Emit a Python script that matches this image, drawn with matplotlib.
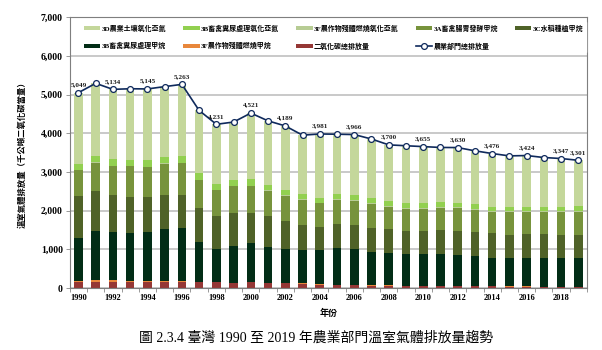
import numpy as np
import matplotlib
matplotlib.use("Agg")
import matplotlib.pyplot as plt

# 農業部門溫室氣體排放量 (千公噸二氧化碳當量), 1990-2019
years = list(range(1990, 2020))
co2 = [146, 163, 155, 150, 150, 163, 163, 155, 146, 130, 155, 129, 120, 112, 90,
       80, 75, 65, 65, 60, 55, 55, 55, 50, 45, 40, 38, 35, 33, 30]
f_ch4 = [43, 34, 60, 22, 22, 17, 15, 13, 12, 10, 10, 8, 8, 6, 5,
         5, 5, 5, 5, 4, 4, 4, 4, 4, 4, 3, 3, 3, 3, 3]
b_ch4 = [1099, 1288, 1236, 1261, 1287, 1348, 1384, 1025, 855, 959, 994, 936, 885, 869, 900,
         945, 920, 861, 843, 815, 820, 828, 785, 764, 734, 723, 725, 728, 730, 733]
c_ch4 = [1090, 1030, 961, 927, 884, 884, 850, 884, 850, 832, 789, 790, 729, 652, 590,
         625, 636, 626, 618, 600, 600, 601, 626, 626, 635, 609, 634, 626, 609, 617]
a_ch4 = [669, 721, 738, 790, 781, 798, 807, 713, 669, 696, 687, 652, 636, 636, 605,
         622, 617, 618, 574, 574, 566, 591, 600, 583, 557, 591, 566, 574, 591, 592]
f_n2o = [12, 12, 12, 12, 12, 12, 12, 12, 12, 12, 12, 30, 30, 20, 15,
         15, 15, 15, 15, 15, 15, 15, 15, 15, 15, 15, 15, 15, 15, 15]
b_n2o = [143, 160, 168, 143, 169, 177, 177, 159, 143, 151, 160, 116, 124, 126, 125,
         141, 142, 133, 133, 133, 132, 133, 116, 133, 115, 116, 124, 116, 116, 133]
d_n2o = [1847, 1882, 1804, 1845, 1840, 1806, 1855, 1629, 1544, 1500, 1714, 1659, 1657, 1529, 1651,
         1542, 1556, 1528, 1447, 1476, 1463, 1406, 1429, 1371, 1371, 1318, 1319, 1276, 1250, 1178]
total = [5049, 5290, 5134, 5150, 5145, 5205, 5263, 4590, 4231, 4290, 4521, 4320, 4189, 3950, 3981,
         3975, 3966, 3851, 3700, 3677, 3655, 3633, 3630, 3546, 3476, 3415, 3424, 3373, 3347, 3301]
# 標示數值的年份
label_years = [1990, 1992, 1994, 1996, 1998, 2000, 2002, 2004, 2006, 2008,
               2010, 2012, 2014, 2016, 2018, 2019]

layers = [
    (co2, "#953735", "二氧化碳總排放量"),
    (f_ch4, "#e8873b", "3F農作物殘體燃燒甲烷"),
    (b_ch4, "#022d16", "3B畜禽糞尿處理甲烷"),
    (c_ch4, "#4f6228", "3C水稻種植甲烷"),
    (a_ch4, "#77933c", "3A畜禽腸胃發酵甲烷"),
    (f_n2o, "#b7cc94", "3F農作物殘體燃燒氧化亞氮"),
    (b_n2o, "#92d050", "3B畜禽糞尿處理氧化亞氮"),
    (d_n2o, "#c4d79b", "3D農業土壤氧化亞氮"),
]

serif_cjk = ["Liberation Serif", "Noto Sans CJK TC"]

fig = plt.figure(figsize=(6.02, 3.5), dpi=100)
ax = fig.add_axes([0.116, 0.177, 0.859, 0.774])

x = np.arange(len(years))
bottom = np.zeros(len(years))
handles = {}
for vals, color, name in layers:
    h = ax.bar(x, vals, width=0.5, bottom=bottom, color=color, linewidth=0, zorder=2)
    handles[name] = h
    bottom += np.array(vals)

line, = ax.plot(x, total, color="#0f2a5c", lw=1.2, marker="o", ms=4.2,
                mfc="white", mec="#0f2a5c", mew=0.9, zorder=4)
handles["農業部門總排放量"] = line

for yr in label_years:
    i = years.index(yr)
    ax.annotate(f"{total[i]:,}", (x[i], total[i]), xytext=(0, 4), textcoords="offset points",
                ha="center", va="bottom", fontsize=5.2, fontweight="bold",
                family="Liberation Serif", color="#222222", zorder=5)

ax.set_xlim(-0.5, len(years) - 0.5)
ax.set_ylim(0, 7000)
ax.set_yticks(range(0, 7001, 1000))
ax.set_yticklabels([f"{v:,}" for v in range(0, 7001, 1000)],
                   family="Liberation Serif", fontweight="bold", fontsize=7)
ax.set_xticks(x[::2])
ax.set_xticklabels([str(y) for y in years[::2]],
                   family="Liberation Serif", fontweight="bold", fontsize=6)
ax.set_xticks(np.arange(-0.5, len(years), 1), minor=True)
ax.tick_params(axis="x", which="major", length=0, pad=4)
ax.tick_params(axis="x", which="minor", length=3, color="#888888", width=0.6)
ax.tick_params(axis="y", length=3, color="#888888", width=0.6, pad=2)

ax.grid(axis="y", color="#c0c0c0", lw=1.2, zorder=0)
ax.set_axisbelow(True)
for s in ax.spines.values():
    s.set_color("#7f7f7f")
    s.set_linewidth(0.8)

ax.set_xlabel("年份", family=serif_cjk, fontweight="bold", fontsize=6.5, labelpad=5)
ax.set_ylabel("溫室氣體排放量（千公噸二氧化碳當量）", family=serif_cjk,
              fontweight="bold", fontsize=6, labelpad=10)

# legend: two rows, filled column by column
order = ["3D農業土壤氧化亞氮", "3B畜禽糞尿處理甲烷",
         "3B畜禽糞尿處理氧化亞氮", "3F農作物殘體燃燒甲烷",
         "3F農作物殘體燃燒氧化亞氮", "二氧化碳總排放量",
         "3A畜禽腸胃發酵甲烷", "農業部門總排放量",
         "3C水稻種植甲烷"]
leg = ax.legend([handles[k] for k in order], order, ncol=5, loc="upper center",
                bbox_to_anchor=(0.51, 0.995), frameon=True, fancybox=False,
                edgecolor="white", facecolor="white", framealpha=1,
                prop={"family": serif_cjk, "size": 5, "weight": "bold"},
                handlelength=2.4, handleheight=0.5, handletextpad=0.2,
                columnspacing=2.4, labelspacing=1.5, borderpad=0.35)
leg.set_zorder(6)

fig.text(0.525, 0.035, "圖 2.3.4 臺灣 1990 至 2019 年農業部門溫室氣體排放量趨勢",
         ha="center", va="center", family=serif_cjk, fontsize=10)

fig.savefig("out.png", dpi=100)
